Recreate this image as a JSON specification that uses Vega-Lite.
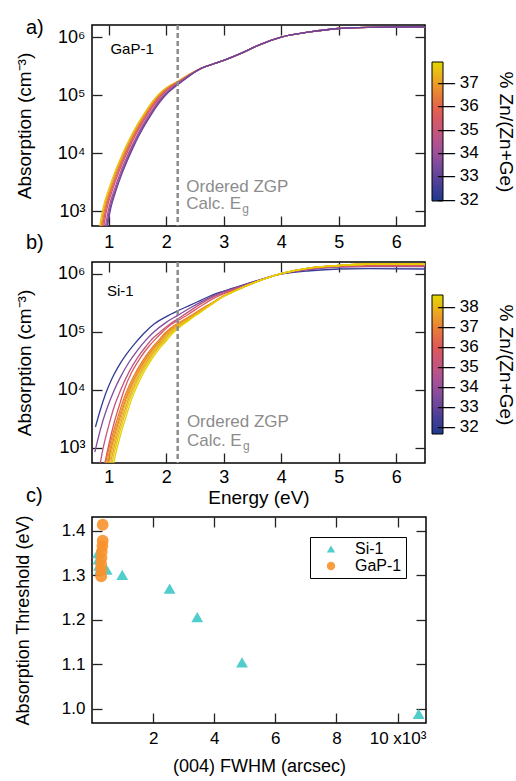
{
  "$schema": "https://vega.github.io/schema/vega-lite/v6.json",
  "padding": {"left": 13, "top": 17, "right": 0, "bottom": 0},
  "spacing": 6,
  "resolve": {"scale": {"color": "independent", "shape": "independent"}, "legend": {"color": "independent", "shape": "independent"}},
  "config": {
    "font": "Liberation Sans",
    "view": {"stroke": "black", "strokeWidth": 1.5},
    "axis": {"grid": false, "domain": false, "ticks": true, "tickColor": "#222222", "tickWidth": 1.3, "tickSize": -10, "labelFont": "Liberation Sans", "labelFontSize": 18, "labelColor": "black", "labelPadding": 17, "titleFont": "Liberation Sans", "titleFontSize": 19, "titleFontWeight": "normal", "titleColor": "black"},
    "legend": {"labelFont": "Liberation Sans", "titleFont": "Liberation Sans", "labelColor": "black", "titleColor": "black", "titleFontWeight": "normal"}
  },
  "vconcat": [
    {
      "width": 333, "height": 201,
      "layer": [
        {
          "data": {"values": [
            {"id":"a1","c":37.6,"E":0.84,"A":525},{"id":"a1","c":37.6,"E":0.90,"A":1120},{"id":"a1","c":37.6,"E":1.00,"A":2400},{"id":"a1","c":37.6,"E":1.10,"A":4570},{"id":"a1","c":37.6,"E":1.20,"A":7940},{"id":"a1","c":37.6,"E":1.30,"A":13200},{"id":"a1","c":37.6,"E":1.40,"A":20900},{"id":"a1","c":37.6,"E":1.50,"A":31600},{"id":"a1","c":37.6,"E":1.60,"A":45700},{"id":"a1","c":37.6,"E":1.70,"A":64600},{"id":"a1","c":37.6,"E":1.80,"A":87100},{"id":"a1","c":37.6,"E":1.90,"A":112000},{"id":"a1","c":37.6,"E":2.00,"A":135000},{"id":"a1","c":37.6,"E":2.20,"A":174000},{"id":"a1","c":37.6,"E":2.40,"A":229000},{"id":"a1","c":37.6,"E":2.6,"A":288000},{"id":"a1","c":37.6,"E":2.8,"A":339000},{"id":"a1","c":37.6,"E":3.0,"A":398000},{"id":"a1","c":37.6,"E":3.3,"A":525000},{"id":"a1","c":37.6,"E":3.6,"A":724000},{"id":"a1","c":37.6,"E":4.0,"A":1000000},{"id":"a1","c":37.6,"E":4.5,"A":1230000},{"id":"a1","c":37.6,"E":5.0,"A":1410000},{"id":"a1","c":37.6,"E":5.5,"A":1480000},{"id":"a1","c":37.6,"E":6.5,"A":1510000},
            {"id":"a2","c":37.2,"E":0.86,"A":525},{"id":"a2","c":37.2,"E":0.92,"A":1120},{"id":"a2","c":37.2,"E":1.02,"A":2400},{"id":"a2","c":37.2,"E":1.12,"A":4570},{"id":"a2","c":37.2,"E":1.22,"A":7940},{"id":"a2","c":37.2,"E":1.32,"A":13200},{"id":"a2","c":37.2,"E":1.42,"A":20900},{"id":"a2","c":37.2,"E":1.52,"A":31600},{"id":"a2","c":37.2,"E":1.62,"A":45700},{"id":"a2","c":37.2,"E":1.72,"A":64600},{"id":"a2","c":37.2,"E":1.82,"A":87100},{"id":"a2","c":37.2,"E":1.92,"A":112000},{"id":"a2","c":37.2,"E":2.02,"A":135000},{"id":"a2","c":37.2,"E":2.21,"A":174000},{"id":"a2","c":37.2,"E":2.41,"A":229000},{"id":"a2","c":37.2,"E":2.6,"A":288000},{"id":"a2","c":37.2,"E":2.8,"A":339000},{"id":"a2","c":37.2,"E":3.0,"A":398000},{"id":"a2","c":37.2,"E":3.3,"A":525000},{"id":"a2","c":37.2,"E":3.6,"A":724000},{"id":"a2","c":37.2,"E":4.0,"A":1000000},{"id":"a2","c":37.2,"E":4.5,"A":1230000},{"id":"a2","c":37.2,"E":5.0,"A":1410000},{"id":"a2","c":37.2,"E":5.5,"A":1480000},{"id":"a2","c":37.2,"E":6.5,"A":1510000},
            {"id":"a3","c":36.7,"E":0.875,"A":525},{"id":"a3","c":36.7,"E":0.935,"A":1120},{"id":"a3","c":36.7,"E":1.035,"A":2400},{"id":"a3","c":36.7,"E":1.135,"A":4570},{"id":"a3","c":36.7,"E":1.235,"A":7940},{"id":"a3","c":36.7,"E":1.335,"A":13200},{"id":"a3","c":36.7,"E":1.435,"A":20900},{"id":"a3","c":36.7,"E":1.535,"A":31600},{"id":"a3","c":36.7,"E":1.635,"A":45700},{"id":"a3","c":36.7,"E":1.735,"A":64600},{"id":"a3","c":36.7,"E":1.835,"A":87100},{"id":"a3","c":36.7,"E":1.935,"A":112000},{"id":"a3","c":36.7,"E":2.035,"A":135000},{"id":"a3","c":36.7,"E":2.22,"A":174000},{"id":"a3","c":36.7,"E":2.41,"A":229000},{"id":"a3","c":36.7,"E":2.6,"A":288000},{"id":"a3","c":36.7,"E":2.8,"A":339000},{"id":"a3","c":36.7,"E":3.0,"A":398000},{"id":"a3","c":36.7,"E":3.3,"A":525000},{"id":"a3","c":36.7,"E":3.6,"A":724000},{"id":"a3","c":36.7,"E":4.0,"A":1000000},{"id":"a3","c":36.7,"E":4.5,"A":1230000},{"id":"a3","c":36.7,"E":5.0,"A":1410000},{"id":"a3","c":36.7,"E":5.5,"A":1480000},{"id":"a3","c":36.7,"E":6.5,"A":1510000},
            {"id":"a4","c":36.0,"E":0.89,"A":525},{"id":"a4","c":36.0,"E":0.95,"A":1120},{"id":"a4","c":36.0,"E":1.05,"A":2400},{"id":"a4","c":36.0,"E":1.15,"A":4570},{"id":"a4","c":36.0,"E":1.25,"A":7940},{"id":"a4","c":36.0,"E":1.35,"A":13200},{"id":"a4","c":36.0,"E":1.45,"A":20900},{"id":"a4","c":36.0,"E":1.55,"A":31600},{"id":"a4","c":36.0,"E":1.65,"A":45700},{"id":"a4","c":36.0,"E":1.75,"A":64600},{"id":"a4","c":36.0,"E":1.85,"A":87100},{"id":"a4","c":36.0,"E":1.95,"A":112000},{"id":"a4","c":36.0,"E":2.05,"A":135000},{"id":"a4","c":36.0,"E":2.23,"A":174000},{"id":"a4","c":36.0,"E":2.415,"A":229000},{"id":"a4","c":36.0,"E":2.6,"A":288000},{"id":"a4","c":36.0,"E":2.8,"A":339000},{"id":"a4","c":36.0,"E":3.0,"A":398000},{"id":"a4","c":36.0,"E":3.3,"A":525000},{"id":"a4","c":36.0,"E":3.6,"A":724000},{"id":"a4","c":36.0,"E":4.0,"A":1000000},{"id":"a4","c":36.0,"E":4.5,"A":1230000},{"id":"a4","c":36.0,"E":5.0,"A":1410000},{"id":"a4","c":36.0,"E":5.5,"A":1480000},{"id":"a4","c":36.0,"E":6.5,"A":1510000},
            {"id":"a5","c":35.2,"E":0.91,"A":525},{"id":"a5","c":35.2,"E":0.97,"A":1120},{"id":"a5","c":35.2,"E":1.07,"A":2400},{"id":"a5","c":35.2,"E":1.17,"A":4570},{"id":"a5","c":35.2,"E":1.27,"A":7940},{"id":"a5","c":35.2,"E":1.37,"A":13200},{"id":"a5","c":35.2,"E":1.47,"A":20900},{"id":"a5","c":35.2,"E":1.57,"A":31600},{"id":"a5","c":35.2,"E":1.67,"A":45700},{"id":"a5","c":35.2,"E":1.77,"A":64600},{"id":"a5","c":35.2,"E":1.87,"A":87100},{"id":"a5","c":35.2,"E":1.97,"A":112000},{"id":"a5","c":35.2,"E":2.07,"A":135000},{"id":"a5","c":35.2,"E":2.24,"A":174000},{"id":"a5","c":35.2,"E":2.42,"A":229000},{"id":"a5","c":35.2,"E":2.6,"A":288000},{"id":"a5","c":35.2,"E":2.8,"A":339000},{"id":"a5","c":35.2,"E":3.0,"A":398000},{"id":"a5","c":35.2,"E":3.3,"A":525000},{"id":"a5","c":35.2,"E":3.6,"A":724000},{"id":"a5","c":35.2,"E":4.0,"A":1000000},{"id":"a5","c":35.2,"E":4.5,"A":1230000},{"id":"a5","c":35.2,"E":5.0,"A":1410000},{"id":"a5","c":35.2,"E":5.5,"A":1480000},{"id":"a5","c":35.2,"E":6.5,"A":1510000},
            {"id":"a6","c":34.3,"E":0.94,"A":525},{"id":"a6","c":34.3,"E":1.00,"A":1120},{"id":"a6","c":34.3,"E":1.10,"A":2400},{"id":"a6","c":34.3,"E":1.20,"A":4570},{"id":"a6","c":34.3,"E":1.30,"A":7940},{"id":"a6","c":34.3,"E":1.40,"A":13200},{"id":"a6","c":34.3,"E":1.50,"A":20900},{"id":"a6","c":34.3,"E":1.60,"A":31600},{"id":"a6","c":34.3,"E":1.70,"A":45700},{"id":"a6","c":34.3,"E":1.80,"A":64600},{"id":"a6","c":34.3,"E":1.90,"A":87100},{"id":"a6","c":34.3,"E":2.00,"A":112000},{"id":"a6","c":34.3,"E":2.10,"A":135000},{"id":"a6","c":34.3,"E":2.26,"A":174000},{"id":"a6","c":34.3,"E":2.43,"A":229000},{"id":"a6","c":34.3,"E":2.6,"A":288000},{"id":"a6","c":34.3,"E":2.8,"A":339000},{"id":"a6","c":34.3,"E":3.0,"A":398000},{"id":"a6","c":34.3,"E":3.3,"A":525000},{"id":"a6","c":34.3,"E":3.6,"A":724000},{"id":"a6","c":34.3,"E":4.0,"A":1000000},{"id":"a6","c":34.3,"E":4.5,"A":1230000},{"id":"a6","c":34.3,"E":5.0,"A":1410000},{"id":"a6","c":34.3,"E":5.5,"A":1480000},{"id":"a6","c":34.3,"E":6.5,"A":1510000},
            {"id":"a7","c":33.8,"E":0.96,"A":525},{"id":"a7","c":33.8,"E":1.02,"A":1120},{"id":"a7","c":33.8,"E":1.12,"A":2400},{"id":"a7","c":33.8,"E":1.22,"A":4570},{"id":"a7","c":33.8,"E":1.32,"A":7940},{"id":"a7","c":33.8,"E":1.42,"A":13200},{"id":"a7","c":33.8,"E":1.52,"A":20900},{"id":"a7","c":33.8,"E":1.62,"A":31600},{"id":"a7","c":33.8,"E":1.72,"A":45700},{"id":"a7","c":33.8,"E":1.82,"A":64600},{"id":"a7","c":33.8,"E":1.92,"A":87100},{"id":"a7","c":33.8,"E":2.02,"A":112000},{"id":"a7","c":33.8,"E":2.12,"A":135000},{"id":"a7","c":33.8,"E":2.27,"A":174000},{"id":"a7","c":33.8,"E":2.435,"A":229000},{"id":"a7","c":33.8,"E":2.6,"A":288000},{"id":"a7","c":33.8,"E":2.8,"A":339000},{"id":"a7","c":33.8,"E":3.0,"A":398000},{"id":"a7","c":33.8,"E":3.3,"A":525000},{"id":"a7","c":33.8,"E":3.6,"A":724000},{"id":"a7","c":33.8,"E":4.0,"A":1000000},{"id":"a7","c":33.8,"E":4.5,"A":1230000},{"id":"a7","c":33.8,"E":5.0,"A":1410000},{"id":"a7","c":33.8,"E":5.5,"A":1480000},{"id":"a7","c":33.8,"E":6.5,"A":1510000},
            {"id":"a8","c":33.2,"E":0.975,"A":525},{"id":"a8","c":33.2,"E":1.035,"A":1120},{"id":"a8","c":33.2,"E":1.135,"A":2400},{"id":"a8","c":33.2,"E":1.235,"A":4570},{"id":"a8","c":33.2,"E":1.335,"A":7940},{"id":"a8","c":33.2,"E":1.435,"A":13200},{"id":"a8","c":33.2,"E":1.535,"A":20900},{"id":"a8","c":33.2,"E":1.635,"A":31600},{"id":"a8","c":33.2,"E":1.735,"A":45700},{"id":"a8","c":33.2,"E":1.835,"A":64600},{"id":"a8","c":33.2,"E":1.935,"A":87100},{"id":"a8","c":33.2,"E":2.035,"A":112000},{"id":"a8","c":33.2,"E":2.135,"A":135000},{"id":"a8","c":33.2,"E":2.28,"A":174000},{"id":"a8","c":33.2,"E":2.44,"A":229000},{"id":"a8","c":33.2,"E":2.6,"A":288000},{"id":"a8","c":33.2,"E":2.8,"A":339000},{"id":"a8","c":33.2,"E":3.0,"A":398000},{"id":"a8","c":33.2,"E":3.3,"A":525000},{"id":"a8","c":33.2,"E":3.6,"A":724000},{"id":"a8","c":33.2,"E":4.0,"A":1000000},{"id":"a8","c":33.2,"E":4.5,"A":1230000},{"id":"a8","c":33.2,"E":5.0,"A":1410000},{"id":"a8","c":33.2,"E":5.5,"A":1480000},{"id":"a8","c":33.2,"E":6.5,"A":1510000}
          ]},
          "mark": {"type": "line", "strokeWidth": 1.3, "interpolate": "monotone", "clip": true},
          "encoding": {
            "x": {"field": "E", "type": "quantitative", "scale": {"domain": [0.71, 6.5], "nice": false, "zero": false}, "axis": {"orient": "bottom", "values": [1, 2, 3, 4, 5, 6], "title": null, "labelPadding": 17}},
            "y": {"field": "A", "type": "quantitative", "scale": {"type": "log", "domain": [562, 1620000], "nice": false}, "axis": {"orient": "left", "values": [1000, 10000, 100000, 1000000], "labelExpr": "datum.value == 1000 ? '10³' : datum.value == 10000 ? '10⁴' : datum.value == 100000 ? '10⁵' : '10⁶'", "title": "Absorption (cm⁻³)", "titleX": -58}},
            "color": {"field": "c", "type": "quantitative", "scale": {"domain": [31.95, 37.88], "range": ["#1e3a8e", "#4a3e96", "#7a4a9c", "#a4529a", "#c3577c", "#dc5a58", "#e77a38", "#eaa825", "#e0d800"]},
              "legend": {"orient": "none", "legendX": 340, "legendY": 37, "direction": "vertical", "gradientLength": 139, "gradientThickness": 11, "gradientStrokeColor": "black", "gradientStrokeWidth": 1, "values": [32, 33, 34, 35, 36, 37], "labelExpr": "'— ' + datum.label", "labelFont": "Liberation Sans", "labelFontSize": 17, "labelOffset": -5, "labelOverlap": false, "title": "% Zn/(Zn+Ge)", "titleOrient": "right", "titleAnchor": "middle", "titleFontSize": 19, "titlePadding": 17, "padding": 0}},
            "detail": {"field": "id", "type": "nominal"}
          }
        },
        {"data": {"values": [{}]}, "mark": {"type": "rule", "color": "#8c8c8c", "strokeWidth": 2.5, "strokeDash": [5, 3]}, "encoding": {"x": {"datum": 2.2, "axis": null}}},
        {"data": {"values": [{}]}, "mark": {"type": "text", "align": "left", "baseline": "alphabetic", "fontSize": 15, "color": "black"},
          "encoding": {"x": {"datum": 1.03, "axis": {"orient": "top", "labels": false, "title": null, "values": [1, 2, 3, 4, 5, 6]}}, "y": {"datum": 504000, "axis": {"orient": "right", "labels": false, "title": null, "values": [1000, 10000, 100000, 1000000]}}, "text": {"value": "GaP-1"}}},
        {"data": {"values": [{}]}, "mark": {"type": "text", "align": "left", "baseline": "alphabetic", "fontSize": 17, "color": "#8c8c8c"},
          "encoding": {"x": {"datum": 2.35, "axis": null}, "y": {"datum": 2130, "axis": null}, "text": {"value": "Ordered ZGP"}}},
        {"data": {"values": [{}]}, "mark": {"type": "text", "align": "left", "baseline": "alphabetic", "fontSize": 17, "color": "#8c8c8c"},
          "encoding": {"x": {"datum": 2.35, "axis": null}, "y": {"datum": 1100, "axis": null}, "text": {"value": "Calc. E"}}},
        {"data": {"values": [{}]}, "mark": {"type": "text", "align": "left", "baseline": "alphabetic", "fontSize": 12, "color": "#8c8c8c", "dx": 56, "dy": 4},
          "encoding": {"x": {"datum": 2.35, "axis": null}, "y": {"datum": 1100, "axis": null}, "text": {"value": "g"}}},
        {"data": {"values": [{}]}, "mark": {"type": "text", "align": "left", "baseline": "alphabetic", "fontSize": 20, "color": "black", "dx": -66, "dy": 9},
          "encoding": {"x": {"datum": 0.71, "axis": null}, "y": {"datum": 1620000, "axis": null}, "text": {"value": "a)"}}},
        {"data": {"values": [{}]}, "mark": {"type": "text", "align": "left", "baseline": "alphabetic", "fontSize": 20, "color": "black", "dx": -66, "dy": 23},
          "encoding": {"x": {"datum": 0.71, "axis": null}, "y": {"datum": 562, "axis": null}, "text": {"value": "b)"}}}
      ]
    },
    {
      "width": 333, "height": 201,
      "layer": [
        {
          "data": {"values": [
            {"id":"b01","c":32.0,"E":0.77,"A":2290},{"id":"b01","c":32.0,"E":0.85,"A":4370},{"id":"b01","c":32.0,"E":0.95,"A":8710},{"id":"b01","c":32.0,"E":1.05,"A":15100},{"id":"b01","c":32.0,"E":1.15,"A":23400},{"id":"b01","c":32.0,"E":1.30,"A":39800},{"id":"b01","c":32.0,"E":1.45,"A":61700},{"id":"b01","c":32.0,"E":1.61,"A":93300},{"id":"b01","c":32.0,"E":1.80,"A":138000},{"id":"b01","c":32.0,"E":2.00,"A":182000},{"id":"b01","c":32.0,"E":2.20,"A":229000},{"id":"b01","c":32.0,"E":2.40,"A":282000},{"id":"b01","c":32.0,"E":2.60,"A":347000},{"id":"b01","c":32.0,"E":2.80,"A":427000},{"id":"b01","c":32.0,"E":3.00,"A":501000},{"id":"b01","c":32.0,"E":3.30,"A":624000},{"id":"b01","c":32.0,"E":3.60,"A":767000},{"id":"b01","c":32.0,"E":4.00,"A":977000},{"id":"b01","c":32.0,"E":4.50,"A":1120000},{"id":"b01","c":32.0,"E":5.00,"A":1200000},{"id":"b01","c":32.0,"E":5.50,"A":1220000},{"id":"b01","c":32.0,"E":6.50,"A":1200000},
            {"id":"b02","c":33.5,"E":0.76,"A":851},{"id":"b02","c":33.5,"E":0.80,"A":1260},{"id":"b02","c":33.5,"E":0.90,"A":2950},{"id":"b02","c":33.5,"E":1.00,"A":5750},{"id":"b02","c":33.5,"E":1.09,"A":9550},{"id":"b02","c":33.5,"E":1.20,"A":16200},{"id":"b02","c":33.5,"E":1.35,"A":29500},{"id":"b02","c":33.5,"E":1.50,"A":47900},{"id":"b02","c":33.5,"E":1.65,"A":72400},{"id":"b02","c":33.5,"E":1.79,"A":100000},{"id":"b02","c":33.5,"E":2.00,"A":145000},{"id":"b02","c":33.5,"E":2.20,"A":191000},{"id":"b02","c":33.5,"E":2.40,"A":251000},{"id":"b02","c":33.5,"E":2.60,"A":324000},{"id":"b02","c":33.5,"E":2.80,"A":407000},{"id":"b02","c":33.5,"E":3.00,"A":490000},{"id":"b02","c":33.5,"E":3.30,"A":610000},{"id":"b02","c":33.5,"E":3.60,"A":767000},{"id":"b02","c":33.5,"E":4.00,"A":1000000},{"id":"b02","c":33.5,"E":4.50,"A":1170000},{"id":"b02","c":33.5,"E":5.00,"A":1290000},{"id":"b02","c":33.5,"E":5.50,"A":1320000},{"id":"b02","c":33.5,"E":6.50,"A":1320000},
            {"id":"b03","c":35.0,"E":0.85,"A":525},{"id":"b03","c":35.0,"E":0.90,"A":955},{"id":"b03","c":35.0,"E":1.00,"A":2400},{"id":"b03","c":35.0,"E":1.10,"A":5250},{"id":"b03","c":35.0,"E":1.21,"A":10000},{"id":"b03","c":35.0,"E":1.35,"A":20000},{"id":"b03","c":35.0,"E":1.50,"A":35500},{"id":"b03","c":35.0,"E":1.65,"A":56200},{"id":"b03","c":35.0,"E":1.78,"A":79400},{"id":"b03","c":35.0,"E":1.90,"A":100000},{"id":"b03","c":35.0,"E":2.05,"A":132000},{"id":"b03","c":35.0,"E":2.20,"A":166000},{"id":"b03","c":35.0,"E":2.40,"A":224000},{"id":"b03","c":35.0,"E":2.60,"A":302000},{"id":"b03","c":35.0,"E":2.80,"A":389000},{"id":"b03","c":35.0,"E":3.00,"A":468000},{"id":"b03","c":35.0,"E":3.30,"A":589000},{"id":"b03","c":35.0,"E":3.60,"A":750000},{"id":"b03","c":35.0,"E":4.00,"A":1000000},{"id":"b03","c":35.0,"E":4.50,"A":1200000},{"id":"b03","c":35.0,"E":5.00,"A":1320000},{"id":"b03","c":35.0,"E":5.50,"A":1350000},{"id":"b03","c":35.0,"E":6.50,"A":1350000},
            {"id":"b04","c":35.9,"E":0.93,"A":525},{"id":"b04","c":35.9,"E":1.00,"A":1120},{"id":"b04","c":35.9,"E":1.10,"A":2820},{"id":"b04","c":35.9,"E":1.20,"A":6030},{"id":"b04","c":35.9,"E":1.27,"A":10000},{"id":"b04","c":35.9,"E":1.40,"A":20000},{"id":"b04","c":35.9,"E":1.55,"A":35500},{"id":"b04","c":35.9,"E":1.70,"A":56200},{"id":"b04","c":35.9,"E":1.82,"A":75900},{"id":"b04","c":35.9,"E":1.94,"A":100000},{"id":"b04","c":35.9,"E":2.05,"A":126000},{"id":"b04","c":35.9,"E":2.20,"A":155000},{"id":"b04","c":35.9,"E":2.40,"A":204000},{"id":"b04","c":35.9,"E":2.60,"A":275000},{"id":"b04","c":35.9,"E":2.80,"A":363000},{"id":"b04","c":35.9,"E":3.00,"A":450000},{"id":"b04","c":35.9,"E":3.30,"A":580000},{"id":"b04","c":35.9,"E":3.60,"A":745000},{"id":"b04","c":35.9,"E":4.00,"A":1000000},{"id":"b04","c":35.9,"E":4.50,"A":1230000},{"id":"b04","c":35.9,"E":5.00,"A":1350000},{"id":"b04","c":35.9,"E":5.50,"A":1380000},{"id":"b04","c":35.9,"E":6.50,"A":1380000},
            {"id":"b05","c":36.8,"E":0.91,"A":355},{"id":"b05","c":36.8,"E":0.96,"A":631},{"id":"b05","c":36.8,"E":1.06,"A":1590},{"id":"b05","c":36.8,"E":1.16,"A":3390},{"id":"b05","c":36.8,"E":1.26,"A":6920},{"id":"b05","c":36.8,"E":1.36,"A":12000},{"id":"b05","c":36.8,"E":1.46,"A":19100},{"id":"b05","c":36.8,"E":1.56,"A":28200},{"id":"b05","c":36.8,"E":1.66,"A":39800},{"id":"b05","c":36.8,"E":1.76,"A":53700},{"id":"b05","c":36.8,"E":1.86,"A":69200},{"id":"b05","c":36.8,"E":1.96,"A":91200},{"id":"b05","c":36.8,"E":2.06,"A":112000},{"id":"b05","c":36.8,"E":2.40,"A":182000},{"id":"b05","c":36.8,"E":2.60,"A":243000},{"id":"b05","c":36.8,"E":2.80,"A":316000},{"id":"b05","c":36.8,"E":3.00,"A":417000},{"id":"b05","c":36.8,"E":3.30,"A":562000},{"id":"b05","c":36.8,"E":3.60,"A":741000},{"id":"b05","c":36.8,"E":4.00,"A":1000000},{"id":"b05","c":36.8,"E":4.50,"A":1260000},{"id":"b05","c":36.8,"E":5.00,"A":1380000},{"id":"b05","c":36.8,"E":5.50,"A":1450000},{"id":"b05","c":36.8,"E":6.50,"A":1450000},
            {"id":"b06","c":37.5,"E":0.93,"A":355},{"id":"b06","c":37.5,"E":0.98,"A":631},{"id":"b06","c":37.5,"E":1.08,"A":1590},{"id":"b06","c":37.5,"E":1.18,"A":3390},{"id":"b06","c":37.5,"E":1.28,"A":6920},{"id":"b06","c":37.5,"E":1.38,"A":12000},{"id":"b06","c":37.5,"E":1.48,"A":19100},{"id":"b06","c":37.5,"E":1.58,"A":28200},{"id":"b06","c":37.5,"E":1.68,"A":39800},{"id":"b06","c":37.5,"E":1.78,"A":53700},{"id":"b06","c":37.5,"E":1.88,"A":69200},{"id":"b06","c":37.5,"E":1.98,"A":91200},{"id":"b06","c":37.5,"E":2.08,"A":112000},{"id":"b06","c":37.5,"E":2.40,"A":178000},{"id":"b06","c":37.5,"E":2.60,"A":237000},{"id":"b06","c":37.5,"E":2.80,"A":313000},{"id":"b06","c":37.5,"E":3.00,"A":412000},{"id":"b06","c":37.5,"E":3.30,"A":562000},{"id":"b06","c":37.5,"E":3.60,"A":741000},{"id":"b06","c":37.5,"E":4.00,"A":1000000},{"id":"b06","c":37.5,"E":4.50,"A":1260000},{"id":"b06","c":37.5,"E":5.00,"A":1380000},{"id":"b06","c":37.5,"E":5.50,"A":1450000},{"id":"b06","c":37.5,"E":6.50,"A":1450000},
            {"id":"b07","c":37.1,"E":0.95,"A":355},{"id":"b07","c":37.1,"E":1.00,"A":631},{"id":"b07","c":37.1,"E":1.10,"A":1590},{"id":"b07","c":37.1,"E":1.20,"A":3390},{"id":"b07","c":37.1,"E":1.30,"A":6920},{"id":"b07","c":37.1,"E":1.40,"A":12000},{"id":"b07","c":37.1,"E":1.50,"A":19100},{"id":"b07","c":37.1,"E":1.60,"A":28200},{"id":"b07","c":37.1,"E":1.70,"A":39800},{"id":"b07","c":37.1,"E":1.80,"A":53700},{"id":"b07","c":37.1,"E":1.90,"A":69200},{"id":"b07","c":37.1,"E":2.00,"A":91200},{"id":"b07","c":37.1,"E":2.10,"A":112000},{"id":"b07","c":37.1,"E":2.40,"A":174000},{"id":"b07","c":37.1,"E":2.60,"A":234000},{"id":"b07","c":37.1,"E":2.80,"A":309000},{"id":"b07","c":37.1,"E":3.00,"A":407000},{"id":"b07","c":37.1,"E":3.30,"A":562000},{"id":"b07","c":37.1,"E":3.60,"A":741000},{"id":"b07","c":37.1,"E":4.00,"A":1000000},{"id":"b07","c":37.1,"E":4.50,"A":1260000},{"id":"b07","c":37.1,"E":5.00,"A":1380000},{"id":"b07","c":37.1,"E":5.50,"A":1450000},{"id":"b07","c":37.1,"E":6.50,"A":1450000},
            {"id":"b08","c":38.0,"E":0.97,"A":355},{"id":"b08","c":38.0,"E":1.02,"A":631},{"id":"b08","c":38.0,"E":1.12,"A":1590},{"id":"b08","c":38.0,"E":1.22,"A":3390},{"id":"b08","c":38.0,"E":1.32,"A":6920},{"id":"b08","c":38.0,"E":1.42,"A":12000},{"id":"b08","c":38.0,"E":1.52,"A":19100},{"id":"b08","c":38.0,"E":1.62,"A":28200},{"id":"b08","c":38.0,"E":1.72,"A":39800},{"id":"b08","c":38.0,"E":1.82,"A":53700},{"id":"b08","c":38.0,"E":1.92,"A":69200},{"id":"b08","c":38.0,"E":2.02,"A":91200},{"id":"b08","c":38.0,"E":2.12,"A":112000},{"id":"b08","c":38.0,"E":2.40,"A":170000},{"id":"b08","c":38.0,"E":2.60,"A":229000},{"id":"b08","c":38.0,"E":2.80,"A":305000},{"id":"b08","c":38.0,"E":3.00,"A":407000},{"id":"b08","c":38.0,"E":3.30,"A":562000},{"id":"b08","c":38.0,"E":3.60,"A":741000},{"id":"b08","c":38.0,"E":4.00,"A":1000000},{"id":"b08","c":38.0,"E":4.50,"A":1260000},{"id":"b08","c":38.0,"E":5.00,"A":1380000},{"id":"b08","c":38.0,"E":5.50,"A":1450000},{"id":"b08","c":38.0,"E":6.50,"A":1450000},
            {"id":"b09","c":37.7,"E":0.995,"A":355},{"id":"b09","c":37.7,"E":1.045,"A":631},{"id":"b09","c":37.7,"E":1.145,"A":1590},{"id":"b09","c":37.7,"E":1.245,"A":3390},{"id":"b09","c":37.7,"E":1.345,"A":6920},{"id":"b09","c":37.7,"E":1.445,"A":12000},{"id":"b09","c":37.7,"E":1.545,"A":19100},{"id":"b09","c":37.7,"E":1.645,"A":28200},{"id":"b09","c":37.7,"E":1.745,"A":39800},{"id":"b09","c":37.7,"E":1.845,"A":53700},{"id":"b09","c":37.7,"E":1.945,"A":69200},{"id":"b09","c":37.7,"E":2.045,"A":91200},{"id":"b09","c":37.7,"E":2.145,"A":112000},{"id":"b09","c":37.7,"E":2.40,"A":166000},{"id":"b09","c":37.7,"E":2.60,"A":224000},{"id":"b09","c":37.7,"E":2.80,"A":302000},{"id":"b09","c":37.7,"E":3.00,"A":407000},{"id":"b09","c":37.7,"E":3.30,"A":562000},{"id":"b09","c":37.7,"E":3.60,"A":741000},{"id":"b09","c":37.7,"E":4.00,"A":1000000},{"id":"b09","c":37.7,"E":4.50,"A":1260000},{"id":"b09","c":37.7,"E":5.00,"A":1380000},{"id":"b09","c":37.7,"E":5.50,"A":1450000},{"id":"b09","c":37.7,"E":6.50,"A":1450000},
            {"id":"b10","c":38.3,"E":1.02,"A":355},{"id":"b10","c":38.3,"E":1.07,"A":631},{"id":"b10","c":38.3,"E":1.17,"A":1590},{"id":"b10","c":38.3,"E":1.27,"A":3390},{"id":"b10","c":38.3,"E":1.37,"A":6920},{"id":"b10","c":38.3,"E":1.47,"A":12000},{"id":"b10","c":38.3,"E":1.57,"A":19100},{"id":"b10","c":38.3,"E":1.67,"A":28200},{"id":"b10","c":38.3,"E":1.77,"A":39800},{"id":"b10","c":38.3,"E":1.87,"A":53700},{"id":"b10","c":38.3,"E":1.97,"A":69200},{"id":"b10","c":38.3,"E":2.07,"A":91200},{"id":"b10","c":38.3,"E":2.17,"A":112000},{"id":"b10","c":38.3,"E":2.40,"A":162000},{"id":"b10","c":38.3,"E":2.60,"A":219000},{"id":"b10","c":38.3,"E":2.80,"A":302000},{"id":"b10","c":38.3,"E":3.00,"A":407000},{"id":"b10","c":38.3,"E":3.30,"A":562000},{"id":"b10","c":38.3,"E":3.60,"A":741000},{"id":"b10","c":38.3,"E":4.00,"A":1000000},{"id":"b10","c":38.3,"E":4.50,"A":1260000},{"id":"b10","c":38.3,"E":5.00,"A":1380000},{"id":"b10","c":38.3,"E":5.50,"A":1450000},{"id":"b10","c":38.3,"E":6.50,"A":1450000},
            {"id":"b11","c":38.5,"E":1.05,"A":355},{"id":"b11","c":38.5,"E":1.10,"A":631},{"id":"b11","c":38.5,"E":1.20,"A":1590},{"id":"b11","c":38.5,"E":1.30,"A":3390},{"id":"b11","c":38.5,"E":1.40,"A":6920},{"id":"b11","c":38.5,"E":1.50,"A":12000},{"id":"b11","c":38.5,"E":1.60,"A":19100},{"id":"b11","c":38.5,"E":1.70,"A":28200},{"id":"b11","c":38.5,"E":1.80,"A":39800},{"id":"b11","c":38.5,"E":1.90,"A":53700},{"id":"b11","c":38.5,"E":2.00,"A":69200},{"id":"b11","c":38.5,"E":2.10,"A":91200},{"id":"b11","c":38.5,"E":2.20,"A":112000},{"id":"b11","c":38.5,"E":2.40,"A":158000},{"id":"b11","c":38.5,"E":2.60,"A":219000},{"id":"b11","c":38.5,"E":2.80,"A":302000},{"id":"b11","c":38.5,"E":3.00,"A":407000},{"id":"b11","c":38.5,"E":3.30,"A":562000},{"id":"b11","c":38.5,"E":3.60,"A":741000},{"id":"b11","c":38.5,"E":4.00,"A":1000000},{"id":"b11","c":38.5,"E":4.50,"A":1260000},{"id":"b11","c":38.5,"E":5.00,"A":1380000},{"id":"b11","c":38.5,"E":5.50,"A":1450000},{"id":"b11","c":38.5,"E":6.50,"A":1450000}
          ]},
          "mark": {"type": "line", "strokeWidth": 1.3, "interpolate": "monotone", "clip": true},
          "encoding": {
            "x": {"field": "E", "type": "quantitative", "scale": {"domain": [0.71, 6.5], "nice": false, "zero": false}, "axis": {"orient": "bottom", "values": [1, 2, 3, 4, 5, 6], "title": "Energy (eV)", "labelPadding": 15, "titleY": 25}},
            "y": {"field": "A", "type": "quantitative", "scale": {"type": "log", "domain": [550, 1585000], "nice": false}, "axis": {"orient": "left", "values": [1000, 10000, 100000, 1000000], "labelExpr": "datum.value == 1000 ? '10³' : datum.value == 10000 ? '10⁴' : datum.value == 100000 ? '10⁵' : '10⁶'", "title": "Absorption (cm⁻³)", "titleX": -58}},
            "color": {"field": "c", "type": "quantitative", "scale": {"domain": [31.63, 38.62], "range": ["#1e3a8e", "#4a3e96", "#7a4a9c", "#a4529a", "#c3577c", "#dc5a58", "#e77a38", "#eaa825", "#e0d800"]},
              "legend": {"orient": "none", "legendX": 340, "legendY": 33, "direction": "vertical", "gradientLength": 139, "gradientThickness": 11, "gradientStrokeColor": "black", "gradientStrokeWidth": 1, "values": [32, 33, 34, 35, 36, 37, 38], "labelExpr": "'— ' + datum.label", "labelFont": "Liberation Sans", "labelFontSize": 17, "labelOffset": -5, "labelOverlap": false, "title": "% Zn/(Zn+Ge)", "titleOrient": "right", "titleAnchor": "middle", "titleFontSize": 19, "titlePadding": 17, "padding": 0}},
            "detail": {"field": "id", "type": "nominal"}
          }
        },
        {"data": {"values": [{}]}, "mark": {"type": "rule", "color": "#8c8c8c", "strokeWidth": 2.5, "strokeDash": [5, 3]}, "encoding": {"x": {"datum": 2.2, "axis": null}}},
        {"data": {"values": [{}]}, "mark": {"type": "text", "align": "left", "baseline": "alphabetic", "fontSize": 15, "color": "black"},
          "encoding": {"x": {"datum": 0.97, "axis": {"orient": "top", "labels": false, "title": null, "values": [1, 2, 3, 4, 5, 6]}}, "y": {"datum": 417000, "axis": {"orient": "right", "labels": false, "title": null, "values": [1000, 10000, 100000, 1000000]}}, "text": {"value": "Si-1"}}},
        {"data": {"values": [{}]}, "mark": {"type": "text", "align": "left", "baseline": "alphabetic", "fontSize": 17, "color": "#8c8c8c"},
          "encoding": {"x": {"datum": 2.36, "axis": null}, "y": {"datum": 2280, "axis": null}, "text": {"value": "Ordered ZGP"}}},
        {"data": {"values": [{}]}, "mark": {"type": "text", "align": "left", "baseline": "alphabetic", "fontSize": 17, "color": "#8c8c8c"},
          "encoding": {"x": {"datum": 2.36, "axis": null}, "y": {"datum": 1100, "axis": null}, "text": {"value": "Calc. E"}}},
        {"data": {"values": [{}]}, "mark": {"type": "text", "align": "left", "baseline": "alphabetic", "fontSize": 12, "color": "#8c8c8c", "dx": 56, "dy": 4},
          "encoding": {"x": {"datum": 2.36, "axis": null}, "y": {"datum": 1100, "axis": null}, "text": {"value": "g"}}},
        {"data": {"values": [{}]}, "mark": {"type": "text", "align": "left", "baseline": "alphabetic", "fontSize": 20, "color": "black", "dx": -66, "dy": 39},
          "encoding": {"x": {"datum": 0.71, "axis": null}, "y": {"datum": 550, "axis": null}, "text": {"value": "c)"}}}
      ]
    },
    {
      "width": 334, "height": 206,
      "layer": [
        {
          "data": {"values": [
            {"sample":"Si-1","fwhm":200,"thr":1.350},{"sample":"Si-1","fwhm":210,"thr":1.336},{"sample":"Si-1","fwhm":230,"thr":1.322},{"sample":"Si-1","fwhm":260,"thr":1.313},{"sample":"Si-1","fwhm":480,"thr":1.313},{"sample":"Si-1","fwhm":990,"thr":1.301},{"sample":"Si-1","fwhm":2540,"thr":1.270},{"sample":"Si-1","fwhm":3445,"thr":1.206},{"sample":"Si-1","fwhm":4910,"thr":1.104},{"sample":"Si-1","fwhm":10690,"thr":0.988},
            {"sample":"GaP-1","fwhm":350,"thr":1.414},{"sample":"GaP-1","fwhm":350,"thr":1.378},{"sample":"GaP-1","fwhm":340,"thr":1.366},{"sample":"GaP-1","fwhm":320,"thr":1.353},{"sample":"GaP-1","fwhm":310,"thr":1.339},{"sample":"GaP-1","fwhm":300,"thr":1.325},{"sample":"GaP-1","fwhm":300,"thr":1.312},{"sample":"GaP-1","fwhm":300,"thr":1.298}
          ]},
          "mark": {"type": "point", "filled": true, "size": 140, "opacity": 0.9},
          "encoding": {
            "x": {"field": "fwhm", "type": "quantitative", "scale": {"domain": [0, 10930], "nice": false, "zero": false}, "axis": {"orient": "bottom", "values": [2000, 4000, 6000, 8000, 10000], "labelExpr": "datum.value == 10000 ? '10 x10³' : format(datum.value / 1000, 'd')", "labelFontSize": 17, "labelPadding": 17, "title": "(004) FWHM (arcsec)", "titleFontSize": 18, "titleY": 34}},
            "y": {"field": "thr", "type": "quantitative", "scale": {"domain": [0.9676, 1.4315], "nice": false, "zero": false}, "axis": {"orient": "left", "values": [1.0, 1.1, 1.2, 1.3, 1.4], "format": ".1f", "labelFontSize": 17, "title": "Absorption Threshold (eV)", "titleFontSize": 18, "titleX": -60}},
            "color": {"field": "sample", "type": "nominal", "scale": {"domain": ["Si-1", "GaP-1"], "range": ["#3ec9c7", "#f7922e"]},
              "legend": {"title": null, "orient": "top-right", "offset": 20, "strokeColor": "black", "fillColor": "white", "padding": 4, "labelFontSize": 16, "symbolSize": 70, "rowPadding": 1, "symbolOffset": 9, "labelOffset": 16}},
            "shape": {"field": "sample", "type": "nominal", "scale": {"domain": ["Si-1", "GaP-1"], "range": ["triangle-up", "circle"]},
              "legend": {"title": null, "orient": "top-right", "offset": 20, "strokeColor": "black", "fillColor": "white", "padding": 4, "labelFontSize": 16, "symbolSize": 70, "rowPadding": 1, "symbolOffset": 9, "labelOffset": 16}}
          }
        },
        {"data": {"values": [{}]}, "mark": {"type": "text"},
          "encoding": {"x": {"datum": 5000, "axis": {"orient": "top", "labels": false, "title": null, "values": [2000, 4000, 6000, 8000, 10000]}}, "y": {"datum": 1.2, "axis": {"orient": "right", "labels": false, "title": null, "values": [1.0, 1.1, 1.2, 1.3, 1.4]}}, "text": {"value": ""}}}
      ]
    }
  ]
}
